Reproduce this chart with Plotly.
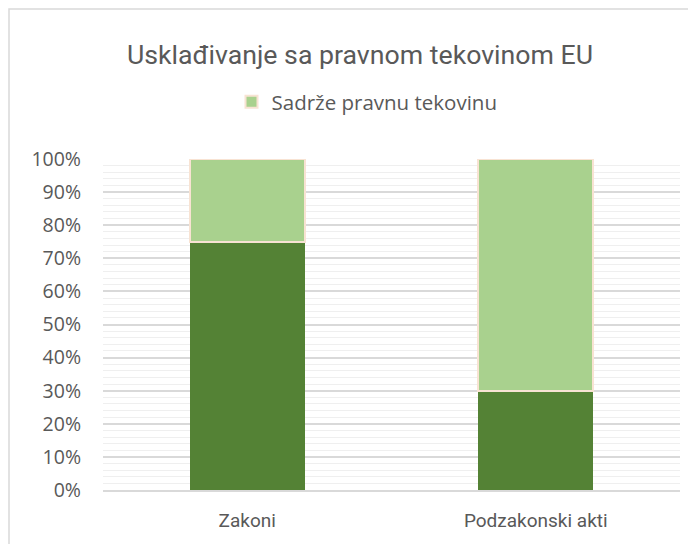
import plotly.graph_objects as go

categories = ["Zakoni", "Podzakonski akti"]
ne_sadrze = [0.75, 0.30]
sadrze = [0.25, 0.70]
tick_vals = [0, 0.1, 0.2, 0.3, 0.4, 0.5, 0.6, 0.7, 0.8, 0.9, 1.0]
tick_text = ["0%", "10%", "20%", "30%", "40%", "50%", "60%", "70%", "80%", "90%", "100%"]

NARROW = "Roboto, sans-serif"
REG = "Open Sans, Noto Sans, sans-serif"
GREY = "#595959"

W, H = 688, 536
L, T = 95, 151
PW, PH = 577, 331

fig = go.Figure()
fig.add_trace(go.Bar(x=categories, y=ne_sadrze, name="Ne sadrže pravnu tekovinu",
                     marker=dict(color="#548235", line=dict(width=0)), showlegend=False))
fig.add_trace(go.Bar(x=categories, y=sadrze, name="Sadrže pravnu tekovinu",
                     marker=dict(color="#A9D18E", line=dict(color="#F8E3D3", width=2))))

fig.update_layout(
    width=W, height=H,
    barmode="stack", bargap=0.6,
    margin=dict(l=L, r=W - L - PW, t=T, b=H - T - PH),
    paper_bgcolor="white", plot_bgcolor="white",
    title=dict(text="Usklađivanje sa pravnom tekovinom EU", x=352 / W, xanchor="center",
               y=1 - 47 / H, yanchor="middle",
               font=dict(family=NARROW, size=26.7, color=GREY)),
    legend=dict(orientation="h", xref="container", x=359 / W, xanchor="center",
                yref="container", y=1 - 94 / H, yanchor="middle",
                font=dict(family=REG, size=20.5, color=GREY), itemwidth=30),
    xaxis=dict(showgrid=False, showline=True, linecolor="#d9d9d9", linewidth=1.5,
               tickfont=dict(family=NARROW, size=19, color=GREY),
               ticks="", ticklabelstandoff=12),
    yaxis=dict(range=[0, 1], tickvals=tick_vals, ticktext=tick_text,
               showgrid=True, gridcolor="#d9d9d9", gridwidth=1.5, zeroline=False,
               tickfont=dict(family=REG, size=19.5, color=GREY), ticklabelstandoff=21,
               minor=dict(dtick=0.02, showgrid=True, gridcolor="#efefef", gridwidth=1)),
    shapes=[dict(type="rect", xref="paper", yref="paper",
                 x0=(1 - L) / PW, x1=1.2, y0=-0.3, y1=(T + PH - 1) / PH,
                 line=dict(color="#d9d9d9", width=1.5), fillcolor="rgba(0,0,0,0)", layer="below")],
)

fig.write_html("out.html")
